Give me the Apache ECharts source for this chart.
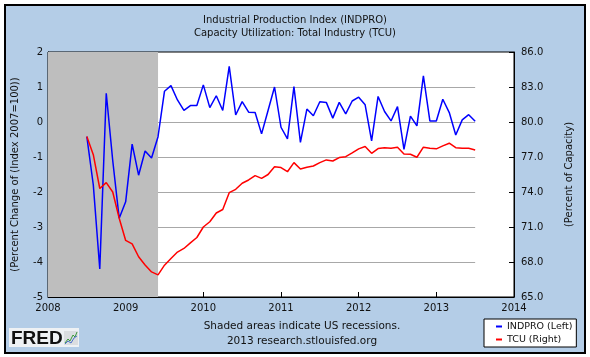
<!DOCTYPE html>
<html>
<head>
<meta charset="utf-8">
<script src="https://cdn.jsdelivr.net/npm/echarts@6/dist/echarts.min.js"></script>
<style>
html,body{margin:0;padding:0;background:#fff}
#wrap{position:relative;width:590px;height:357px}
#frame{position:absolute;left:4px;top:4px;width:578px;height:346px;background:#B4CDE7;border:2px solid #000;box-sizing:content-box}
#c{position:absolute;left:0;top:0;width:590px;height:357px}
</style>
</head>
<body>
<div id="wrap"><div id="frame"></div><div id="c"></div></div>
<script>
// ---- data ----
const months = [
  '2008-07','2008-08','2008-09','2008-10','2008-11','2008-12',
  '2009-01','2009-02','2009-03','2009-04','2009-05','2009-06','2009-07','2009-08','2009-09','2009-10','2009-11','2009-12',
  '2010-01','2010-02','2010-03','2010-04','2010-05','2010-06','2010-07','2010-08','2010-09','2010-10','2010-11','2010-12',
  '2011-01','2011-02','2011-03','2011-04','2011-05','2011-06','2011-07','2011-08','2011-09','2011-10','2011-11','2011-12',
  '2012-01','2012-02','2012-03','2012-04','2012-05','2012-06','2012-07','2012-08','2012-09','2012-10','2012-11','2012-12',
  '2013-01','2013-02','2013-03','2013-04','2013-05','2013-06','2013-07'
];
const indpro = [
  -0.42, -1.8, -4.2, 0.82, -1.1, -2.75,
  -2.28, -0.63, -1.52, -0.83, -1.03, -0.42, 0.88, 1.04, 0.63, 0.33, 0.47, 0.47,
  1.06, 0.41, 0.75, 0.33, 1.59, 0.2, 0.58, 0.28, 0.27, -0.34, 0.33, 1.0,
  -0.15, -0.48, 1.01, -0.58, 0.37, 0.18, 0.58, 0.56, 0.11, 0.56, 0.23, 0.6,
  0.71, 0.49, -0.54, 0.73, 0.3, 0.03, 0.44, -0.78, 0.17, -0.11, 1.32, 0.03,
  0.03, 0.65, 0.27, -0.37, 0.06, 0.21, 0.02
];
const tcu = [
  78.75, 77.2, 74.3, 74.8, 74.0, 71.75,
  69.85, 69.55, 68.45, 67.75, 67.15, 66.9, 67.73, 68.3, 68.85, 69.16, 69.64, 70.1,
  71.0, 71.45, 72.2, 72.5, 73.94, 74.23, 74.75, 75.03, 75.4, 75.17, 75.5, 76.17,
  76.09, 75.74, 76.52, 75.97, 76.12, 76.23, 76.52, 76.75, 76.66, 76.95, 77.03, 77.35,
  77.7, 77.9, 77.32, 77.72, 77.8, 77.75, 77.84, 77.26, 77.24, 76.98, 77.84, 77.75,
  77.7, 77.95, 78.18, 77.8, 77.75, 77.75, 77.6
];
const recessions = [['2007-12', '2009-06']];
const yearRange = [2008, 2014, 1];
const leftRange = [-5, 2, 1];
const rightRange = [65, 86, 3];
const titleLines = ['Industrial Production Index (INDPRO)', 'Capacity Utilization: Total Industry (TCU)'];
const footLines = ['Shaded areas indicate US recessions.', '2013 research.stlouisfed.org'];
const seriesNames = ['INDPRO (Left)', 'TCU (Right)'];
const axisNames = ['(Percent Change of (Index 2007=100))', '(Percent of Capacity)'];

// ---- build ----
const toYear = s => +s.slice(0, 4) + (+s.slice(5, 7) - 1) / 12;
const xs = months.map(toYear);
const indproPts = xs.map((x, i) => [x, indpro[i]]);
const tcuPts = xs.map((x, i) => [x, tcu[i]]);
const lastX = xs[xs.length - 1];
const gridVals = [];
for (let v = leftRange[0] + leftRange[2]; v < leftRange[1]; v += leftRange[2]) gridVals.push(v);
const gridLines = gridVals.map(v => [{ coord: [yearRange[0], v] }, { coord: [lastX, v] }]);
const recAreas = recessions.map(r => [
  { xAxis: Math.max(toYear(r[0]), yearRange[0]) },
  { xAxis: Math.min(toYear(r[1]), yearRange[1]) }
]);

const FONT = '"DejaVu Sans", Verdana, sans-serif';
const TXT = '#111';

const chart = echarts.init(document.getElementById('c'), null, { renderer: 'canvas' });
chart.setOption({
  animation: false,
  backgroundColor: 'transparent',
  title: {
    text: titleLines.join('\n'),
    left: 'center', top: 9,
    textStyle: { fontFamily: FONT, fontSize: 10, fontWeight: 'normal', color: TXT, lineHeight: 13 }
  },
  graphic: {
    elements: [
      { type: 'text', x: 302, y: 321,
        style: { text: footLines[0], fontFamily: FONT, fontSize: 10.5, fill: TXT, align: 'center' } },
      { type: 'text', x: 302, y: 336,
        style: { text: footLines[1], fontFamily: FONT, fontSize: 10.5, fill: TXT, align: 'center' } },
      { type: 'rect', shape: { x: 9, y: 328, width: 70, height: 19 }, style: { fill: '#EEF1F4' } },
      { type: 'text', x: 11, y: 329,
        style: { text: 'FRED', fontFamily: '"Liberation Sans", Arial, sans-serif', fontWeight: 'bold', fontSize: 19, fill: '#111' } },
      { type: 'rect', shape: { x: 64, y: 331, width: 14, height: 14 }, style: { fill: '#DADDE0' } },
      { type: 'polyline', shape: { points: [[65, 343], [68, 339], [70, 341], [73, 335], [75, 337], [77, 332]] },
        style: { stroke: '#3A9A3A', lineWidth: 1, fill: null } },
      { type: 'polyline', shape: { points: [[65, 344], [68, 341], [71, 343], [74, 338], [77, 336]] },
        style: { stroke: '#4A6FC8', lineWidth: 1, fill: null } }
    ]
  },
  legend: {
    left: 484, top: 319, orient: 'vertical',
    backgroundColor: '#fff', borderColor: '#000', borderWidth: 1,
    padding: [1, 4, 1, 12], itemGap: 0, itemWidth: 6, itemHeight: 2, icon: 'rect',
    textStyle: { fontFamily: FONT, fontSize: 9.5, lineHeight: 13, color: TXT },
    data: seriesNames
  },
  grid: {
    left: 48, right: 76, top: 52, bottom: 60,
    show: true, backgroundColor: '#fff', borderColor: '#000', borderWidth: 1
  },
  xAxis: {
    type: 'value', min: yearRange[0], max: yearRange[1], interval: yearRange[2],
    axisLine: { show: true, onZero: false, lineStyle: { color: '#000', width: 1 } },
    axisTick: { show: true, inside: true, length: 5, lineStyle: { color: '#000' } },
    axisLabel: { formatter: v => String(v), fontFamily: FONT, fontSize: 10, color: TXT, margin: 6 },
    splitLine: { show: false }
  },
  yAxis: [
    {
      type: 'value', position: 'left', min: leftRange[0], max: leftRange[1], interval: leftRange[2],
      name: axisNames[0], nameLocation: 'middle', nameRotate: 90, nameGap: 28,
      nameTextStyle: { fontFamily: FONT, fontSize: 10, color: TXT },
      axisLine: { show: true, onZero: false, lineStyle: { color: '#000', width: 1 } },
      axisTick: { show: true, inside: true, length: 5, lineStyle: { color: '#000' } },
      axisLabel: { fontFamily: FONT, fontSize: 10, color: TXT, margin: 5 },
      splitLine: { show: false }
    },
    {
      type: 'value', position: 'right', min: rightRange[0], max: rightRange[1], interval: rightRange[2],
      name: axisNames[1], nameLocation: 'middle', nameRotate: 90, nameGap: 50,
      nameTextStyle: { fontFamily: FONT, fontSize: 10, color: TXT },
      axisLine: { show: true, onZero: false, lineStyle: { color: '#000', width: 1 } },
      axisTick: { show: true, inside: true, length: 5, lineStyle: { color: '#000' } },
      axisLabel: { formatter: v => v.toFixed(1), fontFamily: FONT, fontSize: 10, color: TXT, margin: 7 },
      splitLine: { show: false }
    }
  ],
  series: [
    {
      name: 'gridlines', type: 'line', data: indproPts, yAxisIndex: 0, z: 1, silent: true,
      symbol: 'none', lineStyle: { opacity: 0 },
      markLine: { z: 1, silent: true, symbol: ['none', 'none'], label: { show: false },
        lineStyle: { color: '#A8A8A8', width: 1, type: 'solid' }, data: gridLines }
    },
    {
      name: 'recessions', type: 'line', data: indproPts, yAxisIndex: 0, z: 2, silent: true,
      symbol: 'none', lineStyle: { opacity: 0 },
      markArea: { z: 2, silent: true, itemStyle: { color: '#BEBEBE' }, data: recAreas }
    },
    {
      name: seriesNames[0], type: 'line', data: indproPts, yAxisIndex: 0, z: 3,
      symbol: 'none', lineStyle: { color: '#0000FF', width: 1.5 }, itemStyle: { color: '#0000FF' }
    },
    {
      name: seriesNames[1], type: 'line', data: tcuPts, yAxisIndex: 1, z: 3,
      symbol: 'none', lineStyle: { color: '#FF0000', width: 1.5 }, itemStyle: { color: '#FF0000' }
    }
  ]
});
</script>
</body>
</html>
